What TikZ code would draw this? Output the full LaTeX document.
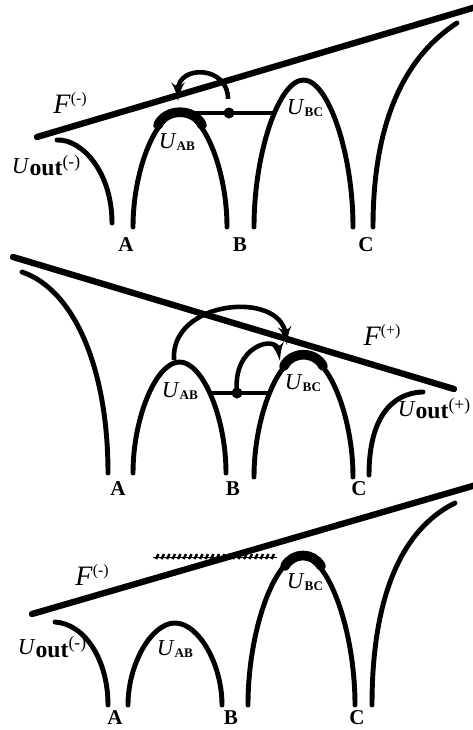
\documentclass[tikz,border=0pt]{standalone}
\usepackage{fontspec}
\setmainfont{Liberation Serif}
\usetikzlibrary{arrows}
\newcommand{\arch}[4]{\draw[barrier] (#1,#3) .. controls (#1,{(#3+#4)/2}) and ({(3*#1+#2)/4},#4) .. ({(#1+#2)/2},#4)
  .. controls ({(#1+3*#2)/4},#4) and (#2,{(#3+#4)/2}) .. (#2,#3);}
\newcommand{\Usub}[1]{\textit{U}\raisebox{-1.2pt}{\fontsize{7.5}{7.5}\selectfont\bfseries #1}}
\newcommand{\Uout}[1]{\textit{U}\raisebox{-1.6pt}{\fontsize{13.5}{13.5}\selectfont\bfseries out}\raisebox{3pt}{\fontsize{10}{10}\selectfont(#1)}}
\newcommand{\Ffield}[1]{{\fontsize{16}{16}\selectfont\textit{F}}\raisebox{5.5pt}{\fontsize{9}{9}\selectfont(#1)}}

\begin{document}
\begin{tikzpicture}[x=0.02cm, y=-0.02cm,
        barrier/.style={line width=2.8pt, line cap=round},
        field/.style={line width=3.6pt, line cap=round},
        peak/.style={line width=5.5pt, line cap=round},
        bond/.style={line width=2.2pt},
        jump/.style={line width=2.6pt, -latex'},
        hatch/.style={line width=1.4pt},
        site/.style={circle, fill, inner sep=0pt, minimum size=0.22cm},
        letter/.style={font=\fontsize{12}{12}\selectfont\bfseries, inner sep=0pt},
        lvl/.style={font=\fontsize{13}{13}\selectfont, inner sep=0pt}]
    \useasboundingbox (0,0) rectangle (473,730);

    % top: F(-), hop back to AB
    \draw[field] (37,137) -- (476,7);
    \draw[barrier] (57,140) .. controls (82,139) and (112,172) .. (112,223);
    \arch{133}{227}{227}{112}
    \arch{254}{353}{227}{80}
    \draw[barrier] (373,227) .. controls (373,130) and (400,60) .. (457,23);
    \draw[peak] (158,125) .. controls (166,108) and (194,108) .. (202,125);
    \coordinate (ab1) at (180,113);
    \coordinate (bc1) at (274,113);
    \node[site] (d1) at (229,113) {};
    \draw[bond] (ab1) -- (bc1);
    \coordinate (s1) at (228,99);
    \coordinate (e1) at (178,101);
    \draw[jump] (s1) .. controls (228,65) and (178,65) .. (e1);
    \node[lvl] (f1) at (70,103) {\Ffield{-}};
    \node[lvl] (uo1) at (46,166) {\Uout{-}};
    \node[lvl] (uab1) at (177,142) {\Usub{AB}};
    \node[lvl] (ubc1) at (305,108) {\Usub{BC}};
    \node[letter] (a1) at (126,245) {A};
    \node[letter] (b1) at (240,245) {B};
    \node[letter] (c1) at (366,245) {C};

    % middle: F(+), hops to BC
    \draw[field] (13,257) -- (454,389);
    \draw[barrier] (22,272) .. controls (75,290) and (108,370) .. (108,473);
    \arch{133}{226}{473}{362}
    \arch{254}{353}{477}{355}
    \draw[barrier] (369,475) .. controls (369,420) and (390,393) .. (423,392);
    \draw[peak] (284,366) .. controls (292,351) and (315,351) .. (323,366);
    \coordinate (ab2) at (209,393);
    \coordinate (bc2) at (270,393);
    \node[site] (d2) at (237,393) {};
    \draw[bond] (ab2) -- (bc2);
    \coordinate (e2) at (280,361);
    \draw[jump] (d2.center) .. controls (232,345) and (276,335) .. (e2);
    \coordinate (s3) at (174,360);
    \coordinate (e3) at (287,345);
    \draw[jump] (s3) .. controls (170,300) and (280,290) .. (e3);
    \node[lvl] (f2) at (382,335) {\Ffield{+}};
    \node[lvl] (uo2) at (434,409) {\Uout{+}};
    \node[lvl] (uab2) at (180,391) {\Usub{AB}};
    \node[lvl] (ubc2) at (303,383) {\Usub{BC}};
    \node[letter] (a2) at (118,489) {A};
    \node[letter] (b2) at (233,489) {B};
    \node[letter] (c2) at (359,489) {C};

    % bottom: F(-), BC level hatched
    \draw[field] (32,614) -- (476,485);
    \draw[barrier] (55,622) .. controls (85,624) and (108,660) .. (108,705);
    \arch{128}{222}{705}{623}
    \arch{248}{355}{705}{556}
    \draw[barrier] (372,705) .. controls (372,600) and (400,530) .. (455,503);
    \draw[peak] (285,566) .. controls (293,552) and (313,552) .. (321,566);
    \coordinate (h1) at (153,557);
    \coordinate (h2) at (277,557);
    \draw[line width=0.5pt] (h1) -- (h2);
    \foreach \x in {156,161.5,...,274}
        \draw[hatch] (\x,559) -- ++(2.5,-5);
    \node[lvl] (f3) at (92,575) {\Ffield{-}};
    \node[lvl] (uo3) at (52,647) {\Uout{-}};
    \node[lvl] (uab3) at (175,649) {\Usub{AB}};
    \node[lvl] (ubc3) at (305,582) {\Usub{BC}};
    \node[letter] (a3) at (115,718) {A};
    \node[letter] (b3) at (231,718) {B};
    \node[letter] (c3) at (357,718) {C};
\end{tikzpicture}
\end{document}
